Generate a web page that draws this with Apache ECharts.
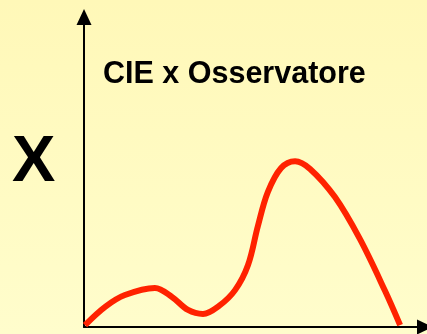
<!DOCTYPE html>
<html>
<head>
<meta charset="utf-8">
<script src="https://cdn.jsdelivr.net/npm/echarts@6/dist/echarts.min.js"></script>
<style>
html,body{margin:0;padding:0;}
#chart{width:427px;height:334px;}
</style>
</head>
<body>
<div id="chart"></div>
<script>
// Curve (arbitrary units, x: 0..100, y: 0..100)
var xValues = [0.3, 6.2, 12.0, 20.8, 25.8, 30.5, 34.9, 39.6, 44.3, 48.1, 51.0, 53.9, 57.8, 61.9, 66.3, 73.6, 80.9, 88.3, 92.7];
var yValues = [0.6, 6.5, 10.3, 12.6, 9.7, 5.5, 4.2, 6.8, 11.9, 20.0, 32.6, 43.5, 51.3, 53.5, 51.0, 41.9, 28.4, 11.6, 0.6];
var titleText = 'CIE x Osservatore';
var axisName = 'X';

var chart = echarts.init(document.getElementById('chart'));
var data = xValues.map(function (x, i) { return [x, yValues[i]]; });
chart.setOption({
  animation: false,
  backgroundColor: {
    type: 'linear', x: 0, y: 0, x2: 0, y2: 1,
    colorStops: [{offset: 0, color: '#FFF8B8'}, {offset: 1, color: '#FFFDCC'}]
  },
  grid: {left: 84, top: 17, right: 2, bottom: 7},
  xAxis: {
    type: 'value', min: 0, max: 100,
    axisLine: {show: true, symbol: ['none', 'triangle'], symbolSize: [15, 16], lineStyle: {color: '#000', width: 2}},
    axisTick: {show: false}, axisLabel: {show: false}, splitLine: {show: false}
  },
  yAxis: {
    type: 'value', min: 0, max: 100,
    axisLine: {show: true, symbol: ['none', 'triangle'], symbolSize: [15, 16], lineStyle: {color: '#000', width: 2}},
    axisTick: {show: false}, axisLabel: {show: false}, splitLine: {show: false}
  },
  graphic: [
    {type: 'text', left: 103, top: 59, style: {text: titleText, font: 'bold 30.5px "Liberation Sans", Arial, sans-serif', fill: '#000'}},
    {type: 'text', left: 12, top: 131, style: {text: axisName, font: 'bold 65px "Liberation Sans", Arial, sans-serif', fill: '#000'}}
  ],
  series: [{
    type: 'line', data: data, smooth: 0.35, showSymbol: false,
    lineStyle: {color: '#FF2200', width: 6, cap: 'butt'}
  }]
});
</script>
</body>
</html>
